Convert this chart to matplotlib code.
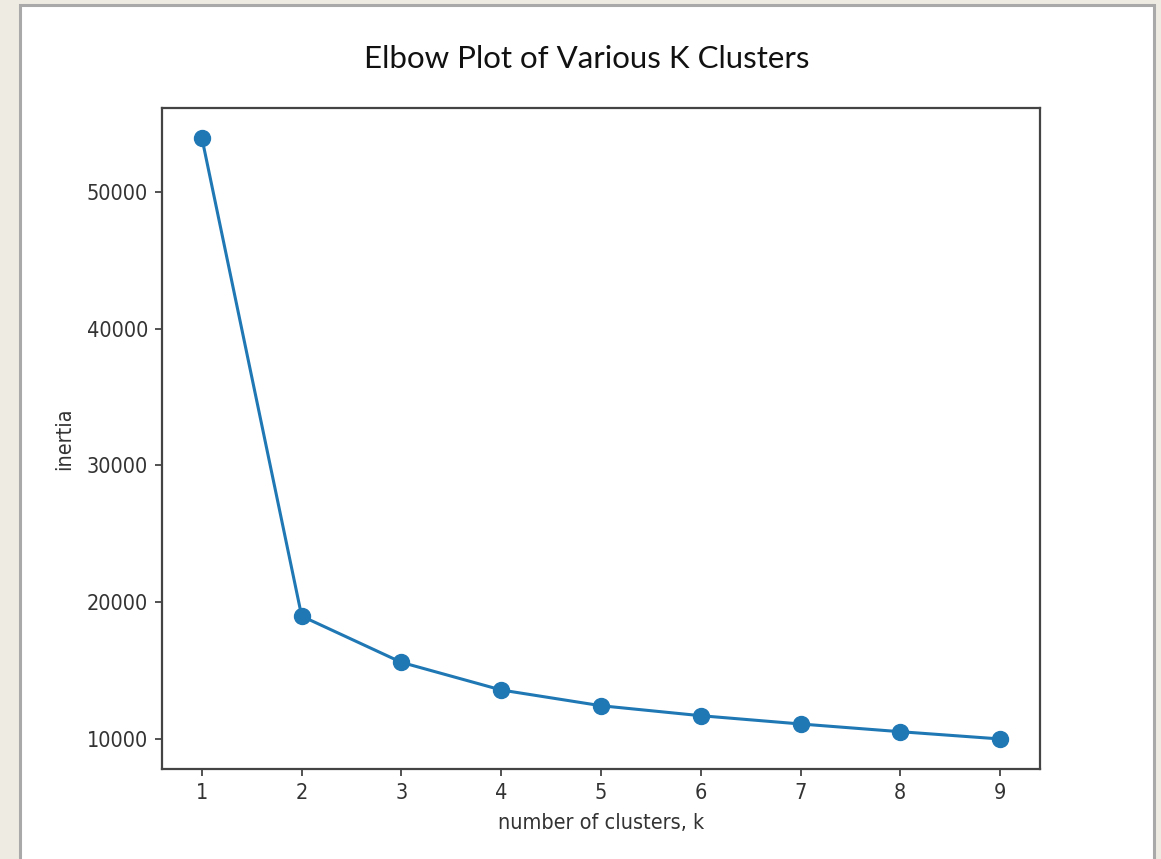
import matplotlib
matplotlib.use("Agg")
import matplotlib.pyplot as plt
from matplotlib.patches import Rectangle

k_values = [1, 2, 3, 4, 5, 6, 7, 8, 9]
inertia = [53940, 18980, 15600, 13580, 12430, 11700, 11095, 10530, 10000]
title = "Elbow Plot of Various K Clusters"
xlabel = "number of clusters, k"
ylabel = "inertia"

W, H = 1161, 859
fig = plt.figure(figsize=(W / 100, H / 100), dpi=100, facecolor="#eeebe3")

# white slide panel with grey border
panel = Rectangle((20 / W, -0.01), (1154 - 20) / W, 1.01 - 5 / H, transform=fig.transFigure,
                  facecolor="white", edgecolor="#a9a9a9", linewidth=2.2, zorder=-10)
fig.patches.append(panel)

ax = fig.add_axes([162 / W, (H - 769) / H, (1040 - 162) / W, (769 - 108) / H])
ax.set_zorder(5)
ax.plot(k_values, inertia, color="#1f77b4", linewidth=2.2, marker="o", markersize=11.5)

ax.set_xticks(k_values)
ax.set_yticks([10000, 20000, 30000, 40000, 50000])
for lab in ax.get_xticklabels() + ax.get_yticklabels():
    lab.set_fontfamily("DejaVu Sans")
    lab.set_fontstretch("condensed")
    lab.set_fontsize(15.5)
    lab.set_color("#333333")
ax.tick_params(length=5, width=1.3, color="#444444", pad=5)
for s in ax.spines.values():
    s.set_color("#444444")
    s.set_linewidth(1.6)

ax.set_xlabel(xlabel, fontfamily="DejaVu Sans", fontstretch="condensed", fontsize=15.5,
              color="#333333", labelpad=7)
ax.set_ylabel(ylabel, fontfamily="DejaVu Sans", fontstretch="condensed", fontsize=15.5,
              color="#333333", labelpad=9)

fig.text(0.505, 1 - 59 / H, title, ha="center", va="center", fontsize=22.5,
         fontfamily="Lato", color="#111111")

fig.savefig("out.png", dpi=100, facecolor=fig.get_facecolor())
